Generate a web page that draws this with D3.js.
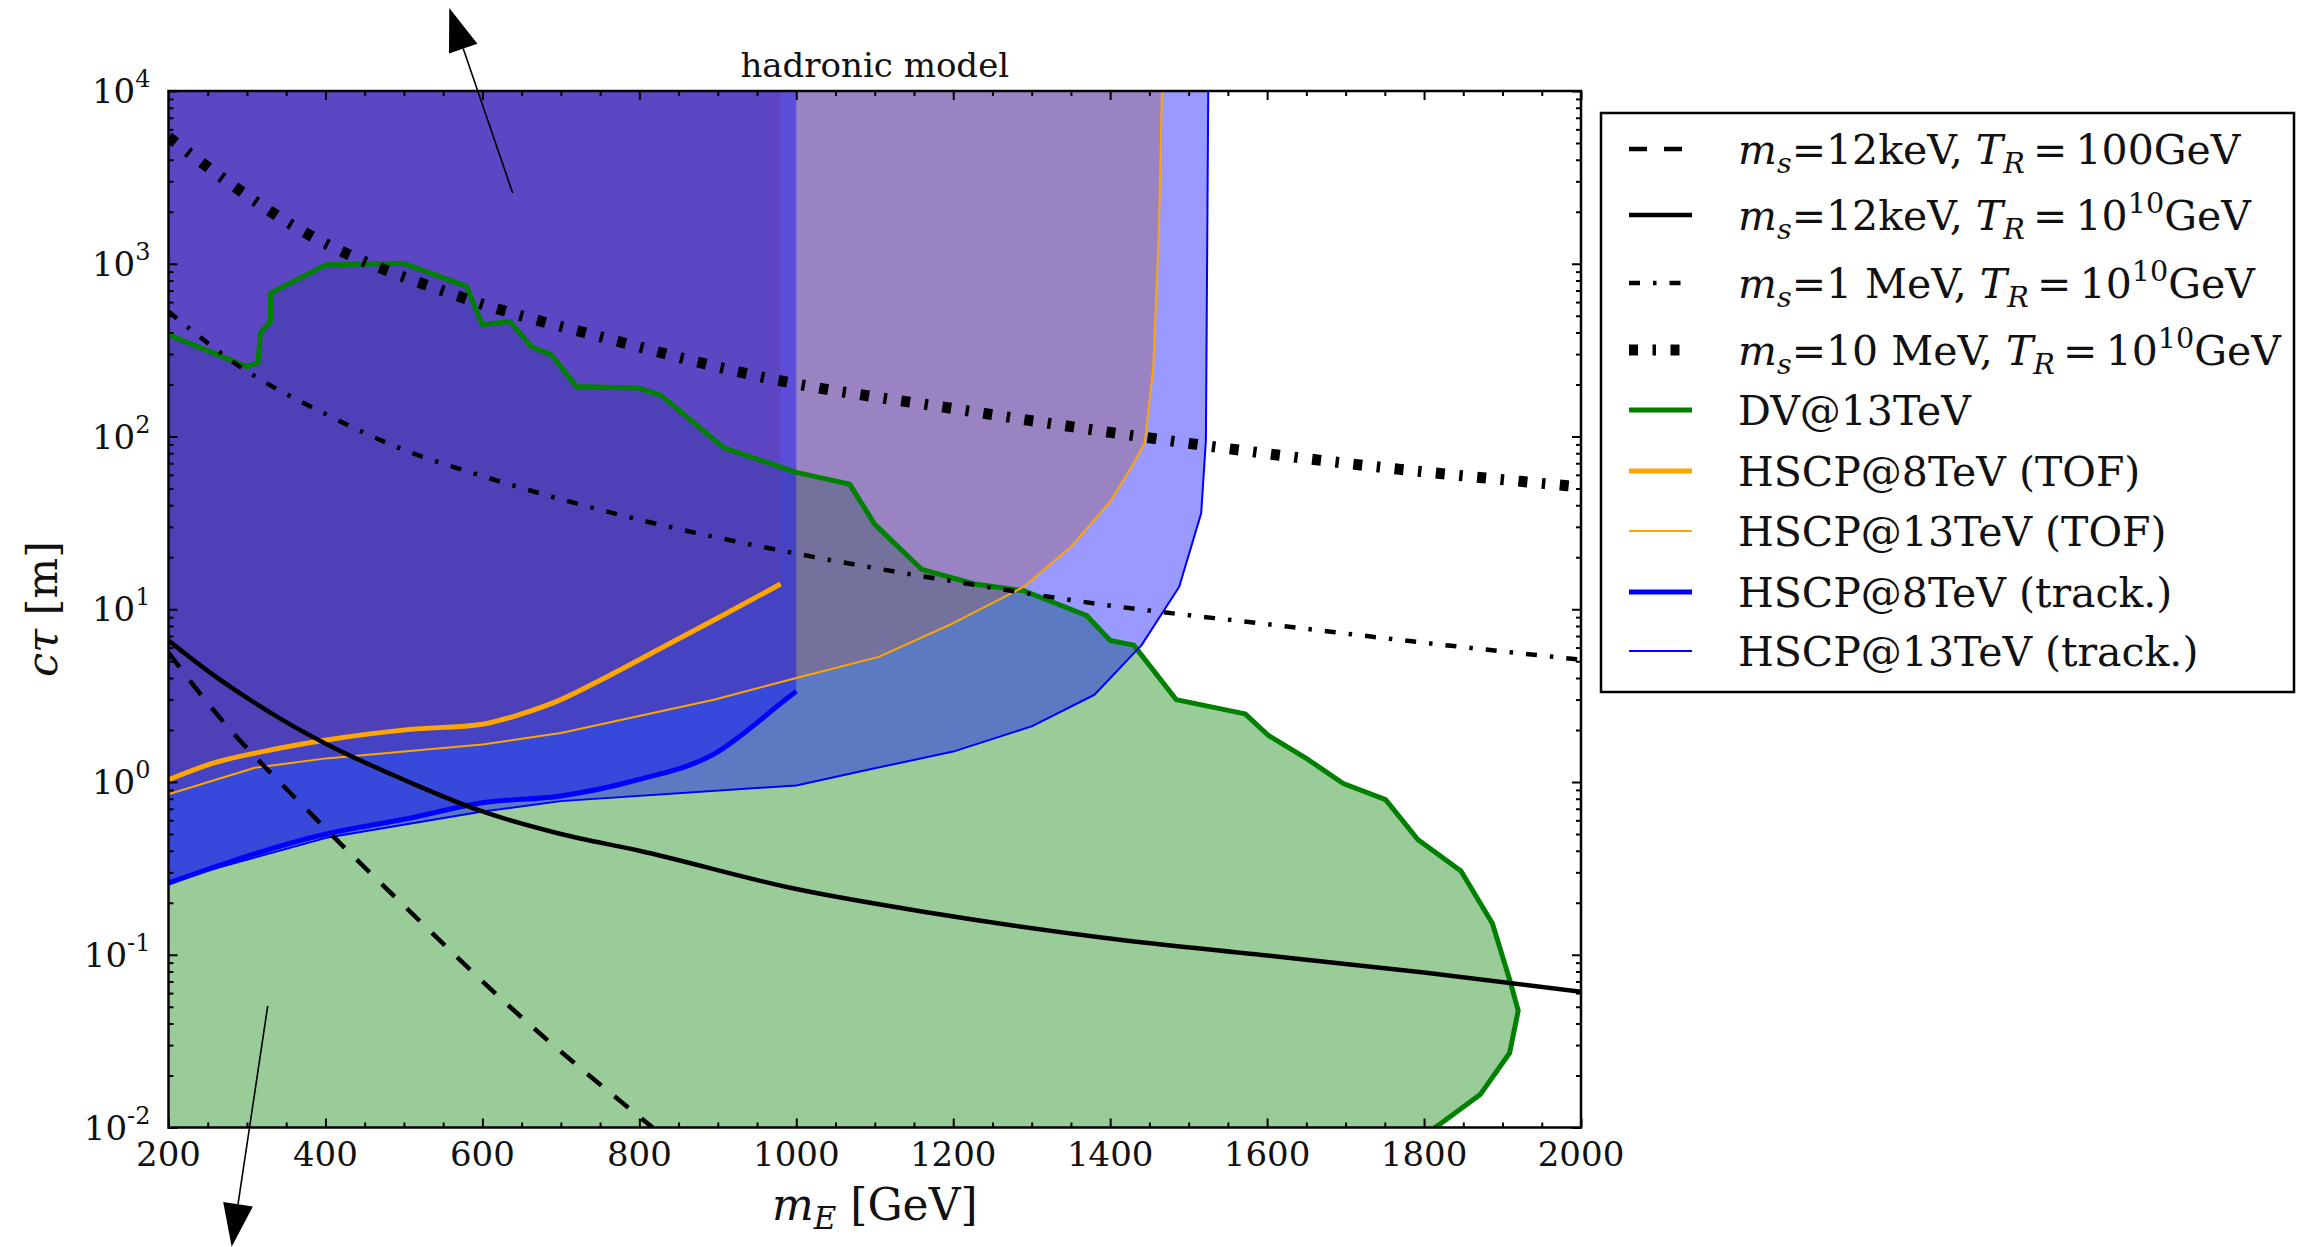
<!DOCTYPE html>
<html>
<head>
<meta charset="UTF-8">
<title>hadronic model</title>
<script src="https://d3js.org/d3.v7.min.js"></script>
<style>
  body { margin: 0; background: #ffffff; }
  svg { display: block; }
  text { font-family: "DejaVu Serif", serif; fill: #111; white-space: pre; }
</style>
</head>
<body>
<svg width="2298" height="1247"></svg>
<script>
// ---- data (m_E in GeV, c tau in m) ----
const xTicks = [200, 400, 600, 800, 1000, 1200, 1400, 1600, 1800, 2000];
const yExponents = [-2, -1, 0, 1, 2, 3, 4];

const dashed12keV = [[200, 5.6], [252, 2.79], [392, 0.586], [505, 0.183], [635, 0.05], [817, 0.01]];
const solid12keV = [[200, 6.6], [250, 4.4], [300, 3.07], [350, 2.22], [401, 1.66], [500, 1.03], [600, 0.675],
  [700, 0.5], [800, 0.4], [1000, 0.24], [1170, 0.175], [1389, 0.126], [1609, 0.098], [1800, 0.079], [2000, 0.061]];
const dashdot1MeV = [[200, 530], [291, 254], [400, 135], [499, 84], [600, 59], [800, 33], [1000, 21],
  [1200, 14.5], [1400, 10.5], [1600, 8.2], [1800, 6.4], [2000, 5.1]];
const dashdot10MeV = [[200, 5400], [375, 1506], [570, 647], [765, 363], [973, 213], [1200, 145],
  [1437, 100], [1700, 70], [2000, 51]];

const dv13 = [[200, 388], [300, 254], [314, 266], [317, 397], [330, 463], [330, 676], [401, 986], [499, 1008],
  [580, 739], [600, 443], [635, 464], [662, 332], [688, 297], [720, 195], [798, 191], [827, 174], [908, 86],
  [1000, 62], [1068, 53], [1100, 31], [1160, 17], [1227, 14], [1290, 12.8], [1370, 9.2], [1400, 6.6],
  [1430, 6.2], [1484, 3.0], [1572, 2.48], [1601, 1.87], [1652, 1.35], [1697, 0.98], [1751, 0.79],
  [1792, 0.465], [1847, 0.305], [1887, 0.152], [1909, 0.072], [1920, 0.0475], [1909, 0.027],
  [1872, 0.0156], [1817, 0.0102], [1813, 0.01]];
const tof8 = [[200, 1.03], [258, 1.29], [317, 1.49], [401, 1.75], [505, 2.01], [600, 2.16], [650, 2.48],
  [700, 3.0], [750, 3.88], [825, 5.87], [900, 8.9], [980, 14]];
const tof13 = [[200, 0.85], [310, 1.21], [401, 1.37], [600, 1.65], [700, 1.92], [895, 2.99], [1000, 4.0],
  [1105, 5.3], [1200, 8.3], [1290, 13.5], [1350, 23], [1400, 42], [1430, 70], [1444, 92], [1455, 254],
  [1462, 1520], [1466, 10000]];
const track8 = [[200, 0.26], [401, 0.5], [505, 0.615], [600, 0.758], [700, 0.83], [798, 1.03], [895, 1.45],
  [986, 2.99], [1000, 3.35]];
const track13 = [[200, 0.266], [401, 0.475], [600, 0.674], [700, 0.775], [1000, 0.955], [1100, 1.2],
  [1200, 1.5], [1300, 2.1], [1380, 3.2], [1440, 6.2], [1488, 13.5], [1516, 36], [1522, 95], [1525, 10000]];

// annotation arrows (tail, head) in data coordinates
const arrows = [
  [[638.6, 2565], [557.8, 30270]],
  [[326.4, 0.0505], [280.5, 0.00204]]
];

const legendLabels = [
  [["m", "i"], ["s", "si"], ["=12keV, ", ""], ["T", "i"], ["R", "si"], ["\u2009=\u2009", ""], ["100GeV", ""]],
  [["m", "i"], ["s", "si"], ["=12keV, ", ""], ["T", "i"], ["R", "si"], ["\u2009=\u200910", ""], ["10", "sup"], ["GeV", ""]],
  [["m", "i"], ["s", "si"], ["=1 MeV, ", ""], ["T", "i"], ["R", "si"], ["\u2009=\u200910", ""], ["10", "sup"], ["GeV", ""]],
  [["m", "i"], ["s", "si"], ["=10 MeV, ", ""], ["T", "i"], ["R", "si"], ["\u2009=\u200910", ""], ["10", "sup"], ["GeV", ""]],
  [["DV@13TeV", ""]],
  [["HSCP@8TeV (TOF)", ""]],
  [["HSCP@13TeV (TOF)", ""]],
  [["HSCP@8TeV (track.)", ""]],
  [["HSCP@13TeV (track.)", ""]]
];

// ---- styles ----
const styles = {
  dashed: { stroke: "#000", width: 4.5, dash: "18 17" },
  solid: { stroke: "#000", width: 4.5, dash: null },
  dd1: { stroke: "#000", width: 4.5, dash: "11 13 3.5 13" },
  dd10: { stroke: "#000", width: 11, dash: "9 14.5 3.5 14.5" },
  dv: { stroke: "#008000", width: 5, dash: null },
  tof8: { stroke: "#ffa500", width: 5, dash: null },
  tof13: { stroke: "#ffa500", width: 2, dash: null },
  tr8: { stroke: "#0000ff", width: 5, dash: null },
  tr13: { stroke: "#0000ff", width: 2, dash: null }
};
const legendOrder = ["dashed", "solid", "dd1", "dd10", "dv", "tof8", "tof13", "tr8", "tr13"];

// ---- layout ----
const L = 168.5, R = 1581, T = 91, B = 1127.5;
const svg = d3.select("svg");
const x = d3.scaleLinear().domain([200, 2000]).range([L, R]);
const y = d3.scaleLog().domain([1e-2, 1e4]).range([B, T]);

svg.append("defs").append("clipPath").attr("id", "plot")
  .append("rect").attr("x", L).attr("y", T).attr("width", R - L).attr("height", B - T);

const line = d3.line().x(d => x(d[0])).y(d => y(d[1]));
const smooth = d3.line().x(d => x(d[0])).y(d => y(d[1])).curve(d3.curveMonotoneX);
// region above a curve, closed along the top of the axes
const above = (pts, gen) => gen(pts) +
  `L${x(pts[pts.length - 1][0])},${y(1e4)}L${x(pts[0][0])},${y(1e4)}Z`;

const g = svg.append("g").attr("clip-path", "url(#plot)");

// filled regions, alpha 0.4 like the original
g.append("path").attr("d", line([[200, 0.01]].concat(dv13)) + "Z")
  .attr("fill", "#008000").attr("fill-opacity", 0.4);
g.append("path").attr("d", above(tof13, line)).attr("fill", "#ffa500").attr("fill-opacity", 0.4);
g.append("path").attr("d", above(tof8, smooth)).attr("fill", "#ffa500").attr("fill-opacity", 0.4);
g.append("path").attr("d", above(track13, line)).attr("fill", "#0000ff").attr("fill-opacity", 0.4);
g.append("path").attr("d", above(track8, smooth)).attr("fill", "#0000ff").attr("fill-opacity", 0.4);

function drawLine(data, st, gen) {
  const p = g.append("path").attr("d", gen(data)).attr("fill", "none")
    .attr("stroke", st.stroke).attr("stroke-width", st.width).attr("stroke-linejoin", "round");
  if (st.dash) p.attr("stroke-dasharray", st.dash);
}
drawLine(dv13, styles.dv, line);
drawLine(tof8, styles.tof8, smooth);
drawLine(tof13, styles.tof13, line);
drawLine(track8, styles.tr8, smooth);
drawLine(track13, styles.tr13, line);
drawLine(dashed12keV, styles.dashed, smooth);
drawLine(solid12keV, styles.solid, smooth);
drawLine(dashdot1MeV, styles.dd1, smooth);
drawLine(dashdot10MeV, styles.dd10, smooth);

// ---- axes: inward ticks on all four sides ----
const xMinor = d3.range(250, 2000, 50).filter(v => v % 200 !== 0);
const yMinor = [];
for (let e = -2; e < 4; e++) for (let k = 2; k < 10; k++) yMinor.push(k * Math.pow(10, e));
const yMajor = yExponents.map(e => Math.pow(10, e));

function ticks(axis, tr, vals, size) {
  const a = svg.append("g").attr("transform", tr)
    .call(axis.tickValues(vals).tickSize(-size).tickSizeOuter(0).tickFormat(""));
  a.select(".domain").remove();
  a.selectAll("line").attr("stroke", "#000").attr("stroke-width", 2);
}
ticks(d3.axisBottom(x), `translate(0,${B})`, xTicks, 9);
ticks(d3.axisBottom(x), `translate(0,${B})`, xMinor, 5);
ticks(d3.axisTop(x), `translate(0,${T})`, xTicks, 9);
ticks(d3.axisTop(x), `translate(0,${T})`, xMinor, 5);
ticks(d3.axisLeft(y), `translate(${L},0)`, yMajor, 9);
ticks(d3.axisLeft(y), `translate(${L},0)`, yMinor, 5);
ticks(d3.axisRight(y), `translate(${R},0)`, yMajor, 9);
ticks(d3.axisRight(y), `translate(${R},0)`, yMinor, 5);

svg.append("rect").attr("x", L).attr("y", T).attr("width", R - L).attr("height", B - T)
  .attr("fill", "none").attr("stroke", "#000").attr("stroke-width", 2.5);

svg.append("g").selectAll("text").data(xTicks).join("text")
  .attr("x", d => x(d)).attr("y", B + 38.5).attr("text-anchor", "middle")
  .attr("font-size", 34).text(d => d);

const yl = svg.append("g").selectAll("text").data(yExponents).join("text")
  .attr("x", L - 18).attr("y", d => y(Math.pow(10, d)) + 12).attr("text-anchor", "end")
  .attr("font-size", 34);
yl.append("tspan").text("10");
yl.append("tspan").attr("font-size", 24).attr("dy", -16).text(d => d);

// ---- labels ----
svg.append("text").attr("x", (L + R) / 2).attr("y", 77).attr("text-anchor", "middle")
  .attr("font-size", 34).text("hadronic model");

const xl = svg.append("text").attr("x", (L + R) / 2).attr("y", 1220).attr("text-anchor", "middle")
  .attr("font-size", 44);
xl.append("tspan").attr("font-style", "italic").text("m");
xl.append("tspan").attr("font-style", "italic").attr("font-size", 31).attr("dy", 9).text("E");
xl.append("tspan").attr("dy", -9).text(" [GeV]");

const ylab = svg.append("text").attr("transform", "translate(57,609) rotate(-90)")
  .attr("text-anchor", "middle").attr("font-size", 43);
ylab.append("tspan").attr("font-style", "italic").text("cτ");
ylab.append("tspan").text(" [m]");

// ---- arrows ----
arrows.forEach(([from, to]) => {
  const x0 = x(from[0]), y0 = y(from[1]), x1 = x(to[0]), y1 = y(to[1]);
  const len = Math.hypot(x1 - x0, y1 - y0), ux = (x1 - x0) / len, uy = (y1 - y0) / len;
  const hl = 43, hw = 15;
  const bx = x1 - ux * hl, by = y1 - uy * hl;
  svg.append("line").attr("x1", x0).attr("y1", y0).attr("x2", bx).attr("y2", by)
    .attr("stroke", "#000").attr("stroke-width", 1.6);
  svg.append("path")
    .attr("d", `M${x1},${y1}L${bx - uy * hw},${by + ux * hw}L${bx + uy * hw},${by - ux * hw}Z`)
    .attr("fill", "#000");
});

// ---- legend ----
const lg = svg.append("g");
lg.append("rect").attr("x", 1601).attr("y", 113).attr("width", 693).attr("height", 579)
  .attr("fill", "#fff").attr("stroke", "#000").attr("stroke-width", 2.5);
const rowY = [149, 215, 283, 350, 410, 471, 531, 592, 651];
legendOrder.forEach((key, i) => {
  const st = styles[key];
  const h = lg.append("line").attr("x1", 1629).attr("x2", 1692).attr("y1", rowY[i]).attr("y2", rowY[i])
    .attr("stroke", st.stroke).attr("stroke-width", st.width);
  if (st.dash) h.attr("stroke-dasharray", st.dash);
  const fs = 41;
  const t = lg.append("text").attr("x", 1738).attr("y", rowY[i] + 15).attr("font-size", fs);
  let cur = 0;
  legendLabels[i].forEach(([txt, kind]) => {
    const shift = kind === "si" ? fs * 0.22 : kind === "sup" ? -fs * 0.42 : 0;
    const ts = t.append("tspan").attr("dy", shift - cur).text(txt);
    cur = shift;
    if (kind === "i" || kind === "si") ts.attr("font-style", "italic");
    if (kind === "si" || kind === "sup") ts.attr("font-size", fs * 0.7);
  });
});
</script>
</body>
</html>
